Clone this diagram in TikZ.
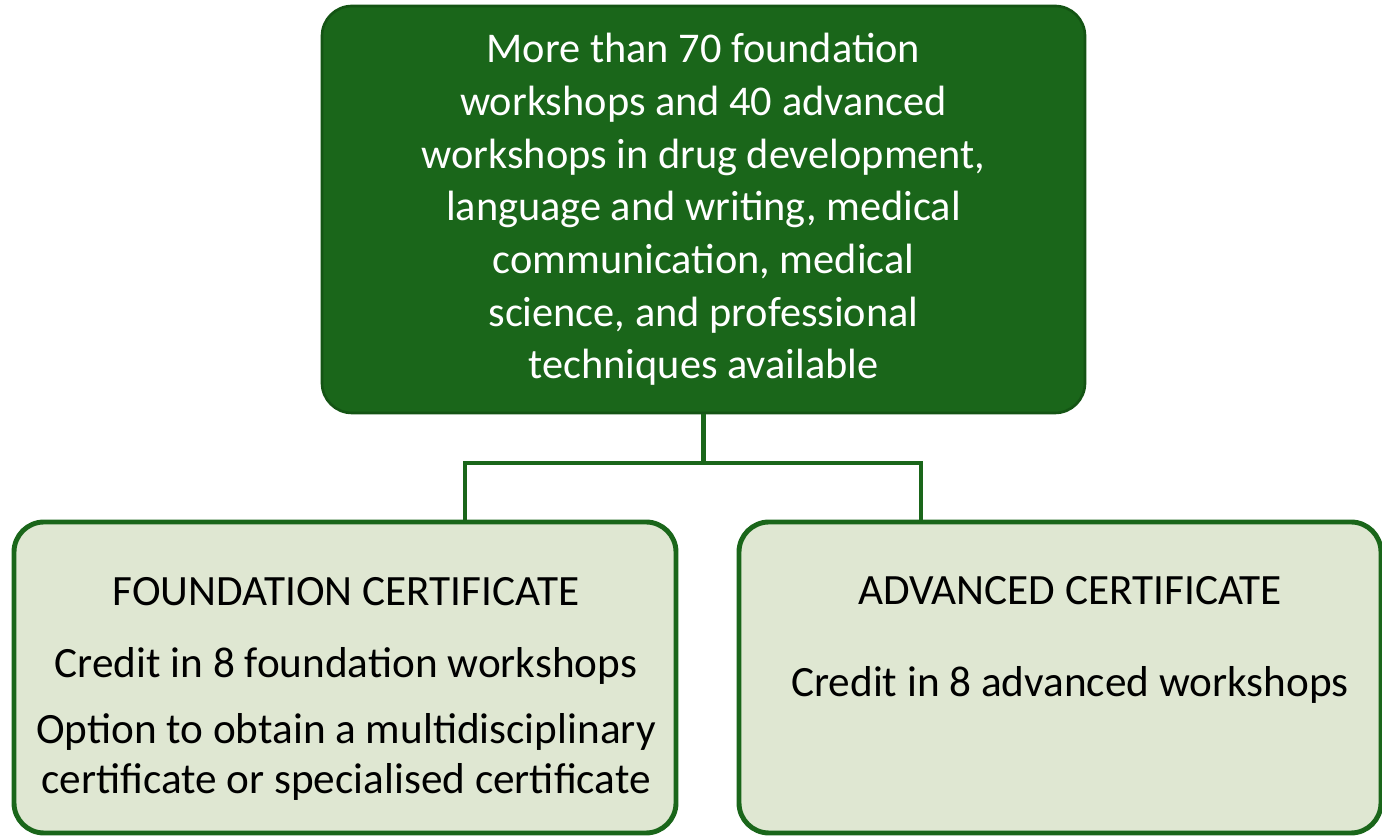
\documentclass[tikz,border=0pt]{standalone}
\usepackage{fontspec}
\setmainfont{Carlito}
\usetikzlibrary{positioning}

\definecolor{darkgreen}{RGB}{26,102,26}
\definecolor{edgegreen}{RGB}{20,84,20}
\definecolor{palegreen}{RGB}{223,231,210}

\tikzset{
	topbox/.style={rectangle, rounded corners=6mm, fill=darkgreen, draw=edgegreen, line width=1.5pt,
		minimum width=15.26cm, minimum height=8.14cm, text=white, align=center,
		font=\fontsize{24.1}{30}\selectfont},
	certbox/.style={rectangle, rounded corners=6mm, fill=palegreen, draw=darkgreen, line width=2.8pt,
		minimum width=13.24cm, minimum height=6.22cm},
	certtext/.style={align=center, text=black, font=\fontsize{24.6}{28.5}\selectfont},
	link/.style={draw=darkgreen, line width=2.8pt}
}

\begin{document}
\begin{tikzpicture}
	\useasboundingbox (0,0) rectangle (27.64,16.72);

	\node[topbox] (pool) at (14.07,12.53) {More than 70 foundation\\workshops and 40 advanced\\workshops in drug development,\\language and writing, medical\\communication, medical\\science, and professional\\techniques available};

	\node[certbox] (found) at (6.9,3.17) {};
	\node[certbox, minimum width=12.84cm] (adv) at (21.2,3.17) {};

	\node[certtext] (foundtxt) at (6.92,2.94) {FOUNDATION CERTIFICATE\\[12pt]Credit in 8 foundation workshops\\[9pt]Option to obtain a multidisciplinary\\certificate or specialised certificate};
	\node[certtext] (advtxt) at (21.4,3.92) {ADVANCED CERTIFICATE\\[24pt]Credit in 8 advanced workshops};

	% tree connector
	\coordinate (lj) at (9.3,7.46);
	\coordinate (rj) at (18.42,7.46);
	\draw[link] (pool.south) -- (pool.south |- lj);
	\draw[link] (lj |- found.north) -- (lj) -- (rj) -- (rj |- adv.north);
\end{tikzpicture}
\end{document}
